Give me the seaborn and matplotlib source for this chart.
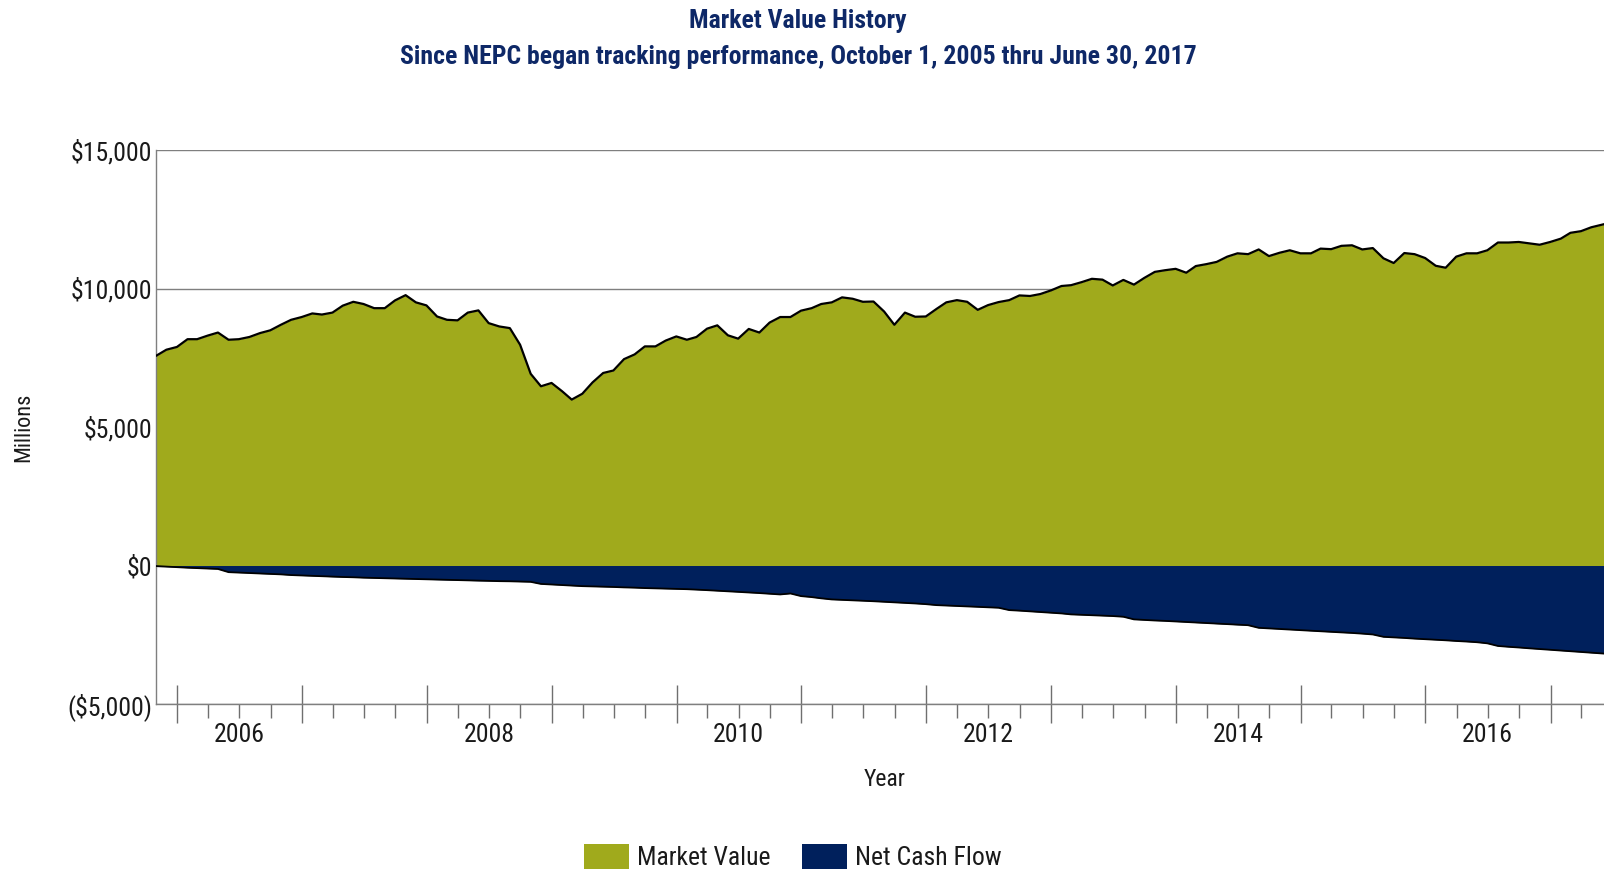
import matplotlib
matplotlib.use("Agg")
import matplotlib.pyplot as plt
import matplotlib.dates as mdates
from matplotlib import font_manager
from matplotlib.patches import Patch
from matplotlib.ticker import FuncFormatter
import pandas as pd
import seaborn as sns

# month-end values, Oct 2005 .. Jun 2017 ($ millions)
start_month = "2005-10-31"
market_value = [
    7570, 7790, 7890, 8170, 8170, 8300, 8410, 8150, 8170, 8250, 8390, 8490,
    8690, 8870, 8970, 9100, 9060, 9130, 9380, 9520, 9440, 9290, 9290, 9570,
    9760, 9500, 9390, 8990, 8870, 8850, 9130, 9210, 8750, 8630, 8570, 7970,
    6920, 6470, 6590, 6290, 5990, 6200, 6610, 6950, 7040, 7450, 7620, 7910,
    7910, 8120, 8270, 8150, 8250, 8550, 8670, 8310, 8190, 8540, 8410, 8770,
    8970, 8970, 9200, 9290, 9440, 9500, 9680, 9630, 9520, 9530, 9170, 8690,
    9130, 8980, 8990, 9260, 9500, 9580, 9520, 9230, 9400, 9510, 9580, 9750,
    9730, 9800, 9930, 10090, 10120, 10230, 10350, 10320, 10110, 10310, 10140, 10380,
    10600, 10660, 10710, 10570, 10810, 10880, 10960, 11150, 11270, 11240, 11410, 11170,
    11290, 11380, 11270, 11270, 11440, 11420, 11540, 11560, 11410, 11460, 11090, 10920,
    11280, 11240, 11100, 10820, 10750, 11150, 11270, 11270, 11380, 11660, 11660, 11680,
    11630, 11580, 11680, 11800, 12010, 12070, 12210, 12300, 12400,
]
net_cash_flow = [
    -20, -40, -60, -80, -95, -110, -125, -240, -255, -270, -290, -305,
    -320, -345, -360, -375, -390, -405, -415, -425, -440, -450, -460, -470,
    -480, -490, -500, -510, -520, -530, -540, -550, -555, -565, -570, -580,
    -590, -665, -685, -705, -725, -745, -755, -765, -775, -790, -800, -815,
    -825, -835, -845, -855, -870, -890, -910, -930, -950, -975, -995, -1020,
    -1045, -1010, -1105, -1140, -1185, -1225, -1240, -1255, -1270, -1290, -1310, -1330,
    -1350, -1370, -1395, -1430, -1445, -1460, -1475, -1490, -1510, -1525, -1610, -1630,
    -1655, -1680, -1705, -1730, -1765, -1780, -1795, -1810, -1825, -1850, -1945, -1965,
    -1985, -2000, -2020, -2040, -2060, -2080, -2100, -2120, -2140, -2155, -2250, -2270,
    -2290, -2310, -2330, -2355, -2375, -2395, -2415, -2435, -2460, -2490, -2575, -2595,
    -2615, -2640, -2660, -2680, -2700, -2725, -2745, -2770, -2810, -2905, -2935, -2960,
    -2990, -3015, -3040, -3070, -3095, -3120, -3150, -3175, -3200,
]
y_ticks = [-5000, 0, 5000, 10000, 15000]
series_names = ["Market Value", "Net Cash Flow"]

df = pd.DataFrame({
    "date": pd.date_range(start_month, periods=len(market_value), freq="ME"),
    "market_value": market_value,
    "net_cash_flow": net_cash_flow,
})

GREEN = "#A0AA1C"
NAVY = "#00205C"
TITLE_BLUE = "#0E2867"
TXT = "#1a1a1a"

sns.set_theme(style="white")

# the reference uses a condensed Arial-like face; take one if it is there
names = {f.name for f in font_manager.fontManager.ttflist}
narrow = [n for n in ["Liberation Sans Narrow", "Arial Narrow", "Nimbus Sans Narrow",
                      "Roboto Condensed", "Open Sans Condensed"] if n in names]
dejavu_cond = any(f.name == "DejaVu Sans" and f.stretch == "condensed"
                  for f in font_manager.fontManager.ttflist)
if narrow:
    plt.rcParams["font.family"] = [narrow[0], "DejaVu Sans"]
    k = 1.0
elif dejavu_cond:
    plt.rcParams["font.family"] = ["DejaVu Sans"]
    plt.rcParams["font.stretch"] = "condensed"
    k = 0.92
else:
    plt.rcParams["font.family"] = ["Liberation Sans", "DejaVu Sans"]
    k = 0.88

fig = plt.figure(figsize=(16.04, 8.69), dpi=100)
ax = fig.add_axes([156.1 / 1604, 165 / 869, 1456 / 1604, 554 / 869])

ax.fill_between(df["date"], 0, df["market_value"], color=GREEN, lw=0, zorder=2)
ax.fill_between(df["date"], 0, df["net_cash_flow"], color=NAVY, lw=0, zorder=2)
sns.lineplot(data=df, x="date", y="market_value", color="black", lw=1.6, ax=ax, zorder=3)
sns.lineplot(data=df, x="date", y="net_cash_flow", color="black", lw=1.3, ax=ax, zorder=3)

ax.set_xlim(df["date"].iloc[0], df["date"].iloc[-1])
ax.set_ylim(-5000, 15000)
ax.set_yticks(y_ticks)
ax.yaxis.set_major_formatter(FuncFormatter(
    lambda v, p: f"${v:,.0f}" if v >= 0 else f"(${-v:,.0f})"))
ax.grid(axis="y", color="#7f7f7f", lw=1)
ax.set_axisbelow(True)

ax.xaxis.set_major_locator(mdates.YearLocator())
ax.xaxis.set_major_formatter(plt.NullFormatter())
ax.xaxis.set_minor_locator(mdates.MonthLocator(bymonth=[4, 7, 10]))


def year_label(v, p):
    d = mdates.num2date(v)
    return str(d.year) if d.month == 7 and d.year % 2 == 0 else ""


ax.xaxis.set_minor_formatter(FuncFormatter(year_label))
ax.tick_params(axis="x", which="major", direction="inout", length=28, width=1,
               color="#6f6f6f", bottom=True)
ax.tick_params(axis="x", which="minor", direction="out", length=10, width=1,
               color="#6f6f6f", labelsize=18.5 * k, labelcolor=TXT, pad=4, bottom=True)
ax.tick_params(axis="y", length=0, labelsize=18.5 * k, labelcolor=TXT, pad=3)

for side in ["top", "right"]:
    ax.spines[side].set_visible(False)
for side in ["left", "bottom"]:
    ax.spines[side].set_color("#7f7f7f")
    ax.spines[side].set_linewidth(1)

ax.set_xlabel("Year", fontsize=17 * k, color=TXT, va="center")
ax.xaxis.set_label_coords(0.5, (704 - 779) / 554)
ax.set_ylabel("Millions", fontsize=16 * k, color=TXT, va="center")
ax.yaxis.set_label_coords((23.5 - 156.1) / 1456, 0.5)

fig.text(798 / 1604, 1 - 21 / 869, "Market Value History", ha="center",
         va="center", fontsize=18.5 * k, fontweight="bold", color=TITLE_BLUE)
fig.text(798 / 1604, 1 - 57 / 869,
         "Since NEPC began tracking performance, October 1, 2005 thru June 30, 2017",
         ha="center", va="center", fontsize=18.5 * k, fontweight="bold", color=TITLE_BLUE)

handles = [Patch(facecolor=GREEN, edgecolor="none"), Patch(facecolor=NAVY, edgecolor="none")]
fig.legend(handles, series_names, loc="center", bbox_to_anchor=(793 / 1604, 1 - 857 / 869),
           ncol=2, frameon=False, fontsize=18.5 * k, handlelength=1.75 / k, handleheight=1.2 / k,
           handletextpad=0.3, columnspacing=1.25, labelcolor=TXT)

fig.savefig("out.png", dpi=100)
